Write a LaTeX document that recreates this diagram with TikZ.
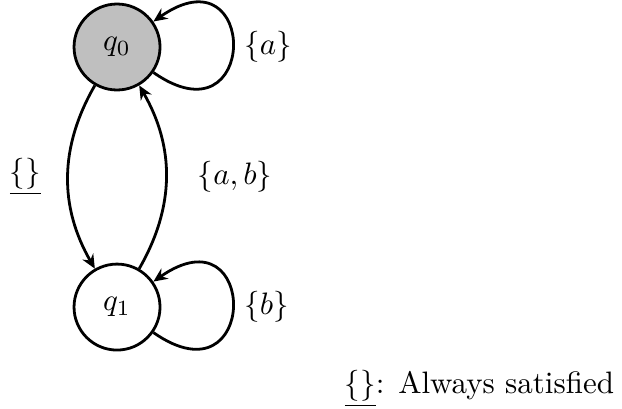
\documentclass[tikz,border=0pt]{standalone}
\usepackage{amsmath,amssymb}
\usetikzlibrary{positioning,arrows.meta}
\tikzset{stat/.style={draw,circle,line width=0.9pt,minimum size=0.975cm,inner sep=0pt},
trans/.style={-{Stealth[length=4.5pt,width=4pt]},line width=0.9pt}}
\begin{document}
\begin{tikzpicture}
\useasboundingbox (0,0) rectangle (7.053,4.627);
\node[stat,fill=gray!50] (q0) at (1.327,4.094) {$q_0$};
\node[stat] (q1) at (1.327,1.145) {$q_1$};
\draw[trans] (q0) edge[loop,out=-35,in=35,looseness=6.5] node[right=0pt]{$\{a\}$} (q0);
\draw[trans] (q1) edge[loop,out=-35,in=35,looseness=6.5] node[right=0pt]{$\{b\}$} (q1);
\draw[trans] (q0) edge[bend right=30] node[left=5pt]{$\underline{\{\}}$} (q1);
\draw[trans] (q1) edge[bend right=30] node[right=6.5pt]{$\{a,b\}$} (q0);
\node[anchor=base east,inner sep=0pt] (note) at (6.97,0.17) {$\underline{\{\}}$: Always satisfied};
\end{tikzpicture}
\end{document}
